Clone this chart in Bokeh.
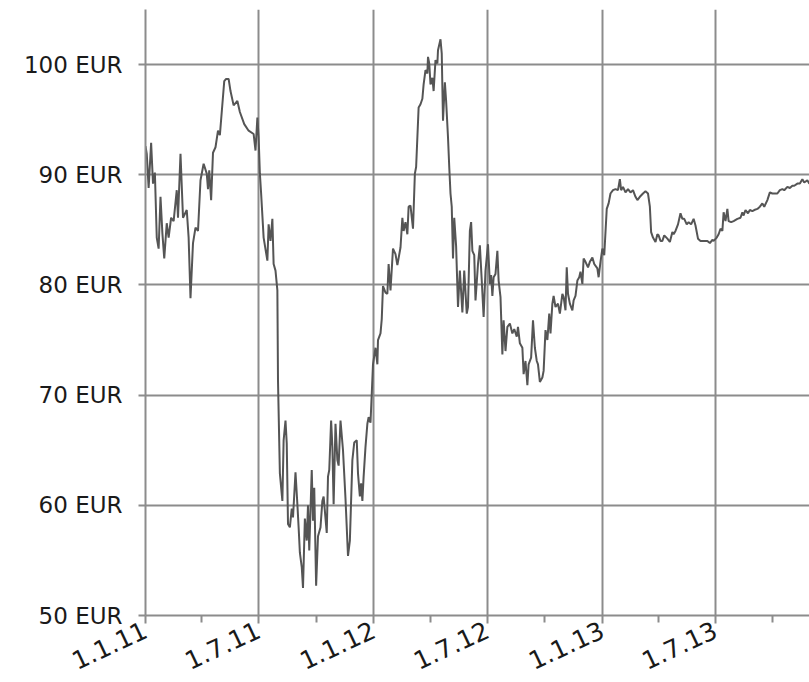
import math
from datetime import datetime
import pandas as pd
from bokeh.plotting import figure
from bokeh.models import Range1d, FixedTicker, CustomJSTickFormatter, ColumnDataSource
from bokeh.embed import file_html
from bokeh.resources import INLINE

dates = [
    "2011-01-01","2011-01-03","2011-01-06","2011-01-10","2011-01-13","2011-01-16","2011-01-19","2011-01-22",
    "2011-01-25","2011-01-28","2011-01-31","2011-02-04","2011-02-07","2011-02-11","2011-02-15","2011-02-20",
    "2011-02-22","2011-02-26","2011-03-02","2011-03-08","2011-03-11","2011-03-14","2011-03-18","2011-03-22",
    "2011-03-26","2011-03-30","2011-04-04","2011-04-09","2011-04-11","2011-04-13","2011-04-16","2011-04-19",
    "2011-04-23","2011-04-27","2011-04-30","2011-05-04","2011-05-07","2011-05-10","2011-05-14","2011-05-17",
    "2011-05-22","2011-05-28","2011-06-01","2011-06-08","2011-06-15","2011-06-23","2011-06-26","2011-06-29",
    "2011-07-01","2011-07-03","2011-07-05","2011-07-09","2011-07-15","2011-07-17","2011-07-20","2011-07-23",
    "2011-07-25","2011-07-28","2011-07-31","2011-08-01","2011-08-04","2011-08-08","2011-08-10","2011-08-13",
    "2011-08-15","2011-08-17","2011-08-20","2011-08-23","2011-08-25","2011-08-29","2011-09-01","2011-09-03",
    "2011-09-05","2011-09-08","2011-09-10","2011-09-13","2011-09-16","2011-09-18","2011-09-20","2011-09-24",
    "2011-09-26","2011-09-28","2011-10-01","2011-10-04","2011-10-08","2011-10-11","2011-10-13","2011-10-18",
    "2011-10-20","2011-10-22","2011-10-25","2011-10-27","2011-10-29","2011-11-01","2011-11-04","2011-11-06",
    "2011-11-09","2011-11-13","2011-11-17","2011-11-21","2011-11-24","2011-11-28","2011-12-01","2011-12-05",
    "2011-12-07","2011-12-10","2011-12-12","2011-12-14","2011-12-16","2011-12-19","2011-12-22","2011-12-24",
    "2011-12-27","2011-12-29","2011-12-31","2012-01-04","2012-01-07","2012-01-08","2012-01-12","2012-01-14",
    "2012-01-16","2012-01-20","2012-01-23","2012-01-25","2012-01-28","2012-02-01","2012-02-05","2012-02-08",
    "2012-02-13","2012-02-16","2012-02-18","2012-02-21","2012-02-24","2012-02-26","2012-02-29","2012-03-04",
    "2012-03-07","2012-03-09","2012-03-13","2012-03-16","2012-03-19","2012-03-21","2012-03-24","2012-03-27",
    "2012-03-28","2012-03-30","2012-04-01","2012-04-04","2012-04-06","2012-04-09","2012-04-12","2012-04-13",
    "2012-04-17","2012-04-19","2012-04-21","2012-04-24","2012-04-26","2012-04-29","2012-05-01","2012-05-03",
    "2012-05-05","2012-05-07","2012-05-09","2012-05-12","2012-05-15","2012-05-18","2012-05-22","2012-05-25",
    "2012-05-29","2012-05-31","2012-06-03","2012-06-05","2012-06-07","2012-06-10","2012-06-12","2012-06-16",
    "2012-06-19","2012-06-22","2012-06-25","2012-06-28","2012-07-02","2012-07-05","2012-07-07","2012-07-09",
    "2012-07-11","2012-07-14","2012-07-17","2012-07-19","2012-07-22","2012-07-25","2012-07-27","2012-07-30",
    "2012-08-02","2012-08-06","2012-08-10","2012-08-13","2012-08-17","2012-08-19","2012-08-22","2012-08-26",
    "2012-08-28","2012-08-31","2012-09-03","2012-09-05","2012-09-09","2012-09-12","2012-09-15","2012-09-18",
    "2012-09-20","2012-09-23","2012-09-27","2012-09-29","2012-10-02","2012-10-05","2012-10-08","2012-10-10",
    "2012-10-13","2012-10-15","2012-10-18","2012-10-22","2012-10-25","2012-10-29","2012-10-31","2012-11-03",
    "2012-11-05","2012-11-07","2012-11-10","2012-11-14","2012-11-16","2012-11-19","2012-11-22","2012-11-25",
    "2012-11-27","2012-11-30","2012-12-02","2012-12-05","2012-12-09","2012-12-12","2012-12-16","2012-12-19",
    "2012-12-24","2012-12-26","2012-12-29","2013-01-01","2013-01-04","2013-01-08","2013-01-11","2013-01-14",
    "2013-01-18","2013-01-22","2013-01-26","2013-01-29","2013-01-31","2013-02-03","2013-02-07","2013-02-11",
    "2013-02-15","2013-02-19","2013-02-23","2013-02-26","2013-03-02","2013-03-07","2013-03-11","2013-03-15",
    "2013-03-18","2013-03-20","2013-03-23","2013-03-27","2013-03-30","2013-04-01","2013-04-04","2013-04-07",
    "2013-04-10","2013-04-15","2013-04-19","2013-04-23","2013-04-25","2013-04-28","2013-05-02","2013-05-06",
    "2013-05-09","2013-05-12","2013-05-16","2013-05-19","2013-05-23","2013-05-27","2013-05-30","2013-06-03",
    "2013-06-07","2013-06-12","2013-06-18","2013-06-22","2013-06-26","2013-06-28","2013-07-03","2013-07-06",
    "2013-07-09","2013-07-12","2013-07-14","2013-07-17","2013-07-20","2013-07-22","2013-07-26","2013-07-30",
    "2013-08-05","2013-08-10","2013-08-13","2013-08-15","2013-08-18","2013-08-22","2013-08-25","2013-08-29",
    "2013-09-01","2013-09-06","2013-09-10","2013-09-14","2013-09-17","2013-09-22","2013-09-26","2013-09-30",
    "2013-10-03","2013-10-08","2013-10-12","2013-10-16","2013-10-19","2013-10-24","2013-10-28","2013-11-01",
    "2013-11-04","2013-11-09","2013-11-13","2013-11-17","2013-11-20","2013-11-25","2013-11-28","2013-12-03",
]

prices = [
    92.6, 91.9, 88.8, 92.9, 89.2, 90.2, 84.3, 83.3,
    88.0, 84.7, 82.4, 85.6, 84.3, 86.1, 85.8, 88.6,
    86.1, 91.9, 86.1, 86.8, 84.3, 78.8, 83.8, 85.2,
    84.9, 89.5, 91.0, 90.1, 88.7, 90.4, 87.7, 92.0,
    92.5, 94.0, 93.6, 96.4, 98.5, 98.7, 98.7, 97.6,
    96.3, 96.7, 95.7, 94.6, 94.0, 93.7, 92.2, 95.2,
    93.4, 90.1, 88.3, 84.3, 82.2, 85.5, 84.0, 86.0,
    81.9, 81.3, 79.5, 71.3, 62.9, 60.4, 65.9, 67.7,
    65.6, 58.3, 58.0, 59.7, 58.9, 63.0, 60.1, 58.0,
    55.7, 54.4, 52.5, 58.8, 56.8, 60.0, 55.9, 63.2,
    58.6, 61.6, 52.7, 57.2, 58.0, 60.4, 60.8, 57.5,
    62.6, 63.2, 67.7, 65.3, 60.1, 67.4, 64.1, 63.6,
    67.7, 65.0, 60.6, 55.4, 56.8, 64.1, 65.7, 65.9,
    62.9, 60.8, 62.0, 60.4, 62.6, 65.3, 67.4, 68.0,
    67.5, 70.1, 72.8, 74.3, 72.8, 75.0, 75.6, 76.9,
    79.9, 79.3, 79.2, 81.9, 79.5, 83.3, 82.8, 81.8,
    83.4, 86.1, 84.9, 85.7, 84.6, 87.1, 87.2, 85.1,
    90.1, 90.7, 96.1, 96.4, 96.9, 98.2, 99.5, 99.2,
    100.7, 100.1, 98.2, 98.8, 97.6, 100.4, 100.1, 101.3,
    102.3, 101.0, 94.9, 98.4, 96.7, 93.4, 90.7, 88.3,
    87.1, 82.4, 86.1, 83.5, 78.0, 81.3, 77.5, 81.3,
    77.4, 78.0, 84.9, 85.7, 83.1, 82.7, 78.6, 81.9,
    83.6, 80.4, 77.1, 81.3, 83.7, 80.1, 80.9, 79.0,
    80.7, 81.0, 83.1, 80.4, 78.9, 73.7, 76.8, 74.0,
    76.2, 76.5, 75.6, 76.0, 75.3, 76.2, 74.7, 74.3,
    71.9, 73.1, 70.9, 72.8, 73.4, 76.8, 74.3, 73.1,
    72.8, 71.2, 71.6, 72.2, 75.9, 75.0, 77.4, 75.6,
    78.3, 79.0, 78.0, 78.3, 77.4, 79.2, 78.9, 77.7,
    81.6, 79.2, 78.3, 77.7, 78.6, 79.0, 80.4, 80.7,
    81.2, 80.1, 82.4, 82.1, 81.6, 82.1, 82.5, 81.9,
    81.5, 80.7, 82.1, 83.3, 82.7, 86.9, 87.4, 88.3,
    88.6, 88.7, 88.6, 89.6, 88.6, 88.9, 88.4, 88.7,
    88.4, 88.6, 88.0, 87.7, 88.0, 88.3, 88.5, 88.3,
    87.1, 84.8, 84.3, 83.9, 84.6, 84.5, 84.0, 84.0,
    84.5, 84.2, 83.9, 84.8, 84.6, 84.9, 85.5, 86.5,
    86.0, 86.0, 85.5, 85.7, 85.5, 86.0, 85.4, 84.2,
    84.0, 84.0, 84.0, 83.8, 84.1, 84.0, 84.3, 84.6,
    85.1, 84.9, 86.6, 85.8, 86.9, 85.8, 85.7, 85.8,
    86.0, 86.1, 86.6, 86.3, 86.8, 86.5, 86.8, 86.7,
    86.8, 86.9, 87.1, 87.4, 87.1, 87.7, 88.4, 88.3,
    88.3, 88.3, 88.6, 88.7, 88.6, 88.9, 88.8, 89.0,
    89.0, 89.2, 89.2, 89.6, 89.3, 89.5, 89.2, 89.3,
]

major_tick_dates = ["2011-01-01", "2011-07-01", "2012-01-01", "2012-07-01", "2013-01-01", "2013-07-01"]
minor_tick_dates = ["2011-04-01", "2011-10-01", "2012-04-01", "2012-10-01", "2013-04-01", "2013-10-01"]
y_ticks = [50, 60, 70, 80, 90, 100]


def to_ms(s):
    return pd.Timestamp(s).value / 1e6


source = ColumnDataSource(data=dict(date=pd.to_datetime(dates), price=prices))

p = figure(
    frame_width=664, frame_height=606,
    x_axis_type="datetime",
    x_range=Range1d(datetime(2011, 1, 1), datetime(2013, 11, 28, 10)),
    y_range=Range1d(50, 105),
    output_backend="svg", toolbar_location=None,
    min_border_left=145, min_border_top=9, min_border_right=0, min_border_bottom=66,
)
p.outline_line_color = None
p.background_fill_color = "white"
p.border_fill_color = "white"

GRID = "#8c8c8c"
FONT = "DejaVu Sans"

p.line("date", "price", source=source, line_color="#555555", line_width=2)

# x axis
p.xaxis.ticker = FixedTicker(ticks=[to_ms(d) for d in major_tick_dates],
                             minor_ticks=[to_ms(d) for d in minor_tick_dates])
p.xaxis.formatter = CustomJSTickFormatter(code="""
const d = new Date(tick);
return d.getUTCDate() + "." + (d.getUTCMonth() + 1) + "." + String(d.getUTCFullYear()).slice(2);
""")
p.xaxis.major_label_orientation = math.radians(25)
p.xaxis.major_label_text_font = FONT
p.xaxis.major_label_text_font_size = "25px"
p.xaxis.major_label_text_color = "#1a1a1a"
p.xaxis.major_label_standoff = 5
p.xaxis.axis_line_color = GRID
p.xaxis.axis_line_width = 2
p.xaxis.major_tick_line_color = GRID
p.xaxis.major_tick_line_width = 2
p.xaxis.major_tick_out = 8
p.xaxis.major_tick_in = 0
p.xaxis.minor_tick_line_color = GRID
p.xaxis.minor_tick_line_width = 2
p.xaxis.minor_tick_out = 7
p.xaxis.minor_tick_in = 0

# y axis
p.yaxis.ticker = FixedTicker(ticks=y_ticks)
p.yaxis.formatter = CustomJSTickFormatter(code="return tick + ' EUR';")
p.yaxis.major_label_text_font = FONT
p.yaxis.major_label_text_font_size = "23px"
p.yaxis.major_label_text_color = "#1a1a1a"
p.yaxis.major_label_standoff = 16
p.yaxis.axis_line_color = GRID
p.yaxis.axis_line_width = 2
p.yaxis.major_tick_line_color = GRID
p.yaxis.major_tick_line_width = 2
p.yaxis.major_tick_out = 7
p.yaxis.major_tick_in = 0
p.yaxis.minor_tick_line_color = None

p.xgrid.grid_line_color = GRID
p.xgrid.grid_line_width = 2
p.ygrid.grid_line_color = GRID
p.ygrid.grid_line_width = 2

open("out.html", "w").write(file_html(p, INLINE))
